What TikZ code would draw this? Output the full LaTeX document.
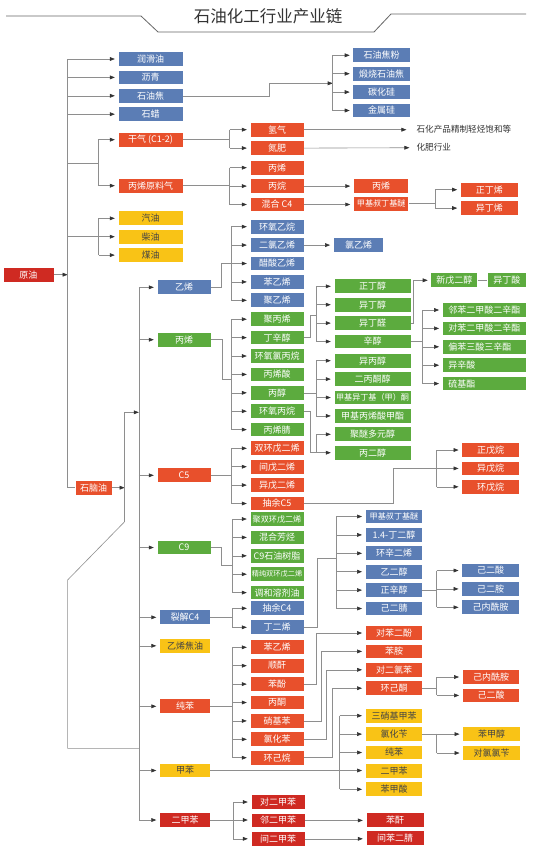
\documentclass[tikz,border=0pt]{standalone}
\usepackage{fontspec}
\newfontfamily\cjk{Noto Sans CJK SC}
\usetikzlibrary{arrows.meta,positioning}
\definecolor{blu}{HTML}{5B7DB5}
\definecolor{grn}{HTML}{5CAB3E}
\definecolor{org}{HTML}{E8502C}
\definecolor{dred}{HTML}{CF2A22}
\definecolor{yel}{HTML}{F9C316}
\definecolor{linec}{HTML}{8E8E8E}
\definecolor{inkd}{HTML}{333333}
\definecolor{inkg}{HTML}{444444}
\tikzset{
  box/.style={rectangle, inner sep=0pt, minimum height=13.7pt, text=white,
              font=\cjk\fontsize{9}{9}\selectfont},
  bblu/.style={box, fill=blu},
  bgrn/.style={box, fill=grn},
  borg/.style={box, fill=org},
  bred/.style={box, fill=dred},
  byel/.style={box, fill=yel, text=inkg},
  wd/.style={minimum width=#1pt},
  sm/.style={font=\cjk\fontsize{8.1}{8.1}\selectfont},
  xs/.style={font=\cjk\fontsize{7.2}{7.2}\selectfont},
  lft/.style={text width=72pt, align=left, inner xsep=5.5pt},
  fl/.style={-{Triangle[length=5pt,width=3.8pt,color=inkd]}, draw=linec, line width=0.6pt, shorten >=3.5pt},
  ln/.style={draw=linec, line width=0.6pt},
  lbl/.style={font=\cjk\fontsize{8.6}{8.6}\selectfont, text=inkd, anchor=west, inner sep=0pt},
}
\begin{document}
\begin{tikzpicture}[x=1pt,y=-1pt,node distance=4.3pt]
  \useasboundingbox (0,0) rectangle (558,855);
  \fill[white] (0,0) rectangle (558,855);
  % title
  \node[font=\cjk\fontsize{16.5}{16.5}\selectfont, text=inkd] (title) at (268,16.5) {石油化工行业产业链};
  \draw[black!60, line width=0.8pt] (6,16) -- (141,16) -- (158,32) -- (374,32) -- (391,14) -- (526,14);

  % crude and first products
  \node[bred, wd=50] (yuanyou) at (28.5,274.7) {原油};
  \node[bblu, wd=64] (runhua) at (150.5,59) {润滑油};
  \node[bblu, wd=64, below=of runhua] (liqing) {沥青};
  \node[bblu, wd=64, below=of liqing] (jiao) {石油焦};
  \node[bblu, wd=64, below=of jiao] (shila) {石蜡};
  \node[borg, wd=64] (ganqi) at (150.5,139.7) {干气 (C1-2)};
  \node[borg, wd=64] (bxyl) at (150.5,185.7) {丙烯原料气};
  \node[byel, wd=64] (qiyou) at (150.5,218.3) {汽油};
  \node[byel, wd=64, below=of qiyou] (chaiyou) {柴油};
  \node[byel, wd=64, below=of chaiyou] (meiyou) {煤油};
  \node[borg, wd=36] (naoyou) at (93.6,487.7) {石脑油};

  % coke
  \node[bblu, wd=56.6] (jfen) at (381.7,55.3) {石油焦粉};
  \node[bblu, wd=56.6, below=of jfen] (dsjiao) {煅烧石油焦};
  \node[bblu, wd=56.6, below=of dsjiao] (thg) {碳化硅};
  \node[bblu, wd=56.6, below=of thg] (jsg) {金属硅};

  % dry gas, propylene feed
  \node[borg, wd=53] (qingqi) at (277,129.7) {氢气};
  \node[borg, wd=53, below=of qingqi] (danfei) {氮肥};
  \node[lbl] (jingzhi) at (416.4,129.7) {石化产品精制轻烃饱和等};
  \node[lbl] (huafei) at (416.4,147.7) {化肥行业};
  \node[borg, wd=53] (bx1) at (277,167.7) {丙烯};
  \node[borg, wd=53, below=of bx1] (bingwan) {丙烷};
  \node[borg, wd=53, below=of bingwan] (hhc4) {混合 C4};
  \node[borg, wd=54.5] (bx2) at (381.2,185.7) {丙烯};
  \node[borg, wd=54.5, sm] (mtbe1) at (381.2,203.7) {甲基叔丁基醚};
  \node[borg, wd=57] (zdx) at (489.4,189.7) {正丁烯};
  \node[borg, wd=57, below=of zdx] (ydx) {异丁烯};

  % naphtha products
  \node[bblu, wd=53] (yixi) at (184,287.3) {乙烯};
  \node[bgrn, wd=53] (bingxi) at (184,339.7) {丙烯};
  \node[borg, wd=53] (c5) at (184,475.3) {C5};
  \node[bgrn, wd=53] (c9) at (184,547.5) {C9};
  \node[bblu, wd=50] (liejie) at (185,617.3) {裂解C4};
  \node[byel, wd=50] (jiaoyou) at (185,645.8) {乙烯焦油};
  \node[borg, wd=50] (chunben) at (185,706.3) {纯苯};
  \node[byel, wd=50] (jiaben) at (185,770.5) {甲苯};
  \node[bred, wd=50] (erjb) at (185,820) {二甲苯};

  % ethylene
  \node[bblu, wd=53] (hyyw) at (277,226.7) {环氧乙烷};
  \node[bblu, wd=53, below=of hyyw] (eyx) {二氯乙烯};
  \node[bblu, wd=53, below=of eyx] (csyx) {醋酸乙烯};
  \node[bblu, wd=53, below=of csyx] (byx1) {苯乙烯};
  \node[bblu, wd=53, below=of byx1] (jyx) {聚乙烯};
  \node[bblu, wd=49.5] (lyx) at (358.5,244.7) {氯乙烯};

  % propylene
  \node[bgrn, wd=53] (jbx) at (277,319.2) {聚丙烯};
  \node[bgrn, wd=53, below=of jbx] (dxc) {丁辛醇};
  \node[bgrn, wd=53, below=of dxc] (hylbw) {环氧氯丙烷};
  \node[bgrn, wd=53, below=of hylbw] (bxs) {丙烯酸};
  \node[bgrn, wd=53, below=of bxs] (bc) {丙醇};
  \node[bgrn, wd=53, below=of bc] (hybw) {环氧丙烷};
  \node[bgrn, wd=53, below=of hybw] (bxj) {丙烯腈};
  \node[bgrn, wd=76] (zdc) at (372.5,286.3) {正丁醇};
  \node[bgrn, wd=76, below=of zdc] (ydc) {异丁醇};
  \node[bgrn, wd=76, below=of ydc] (ydq) {异丁醛};
  \node[bgrn, wd=76, below=of ydq] (xc) {辛醇};
  \node[bgrn, wd=76] (ybc) at (372.5,360.7) {异丙醇};
  \node[bgrn, wd=76, below=of ybc] (ebtc) {二丙酮醇};
  \node[bgrn, wd=76, below=of ebtc, sm] (mibk) {甲基异丁基（甲）酮};
  \node[bgrn, wd=76, below=of mibk] (mma) {甲基丙烯酸甲酯};
  \node[bgrn, wd=76, below=of mma] (jmdy) {聚醚多元醇};
  \node[bgrn, wd=76, below=of jmdy] (bec) {丙二醇};
  \node[bgrn, wd=46] (xwec) at (454.4,280.3) {新戊二醇};
  \node[bgrn, wd=38.5] (ydsuan) at (506.9,280.3) {异丁酸};
  \node[bgrn, wd=83, lft] (lb) at (484.3,310) {邻苯二甲酸二辛酯};
  \node[bgrn, wd=83, lft, below=of lb] (db) {对苯二甲酸二辛酯};
  \node[bgrn, wd=83, lft, below=of db] (pb) {偏苯三酸三辛酯};
  \node[bgrn, wd=83, lft, below=of pb] (yxs) {异辛酸};
  \node[bgrn, wd=83, lft, below=of yxs] (ljz) {硫基酯};

  % C5
  \node[borg, wd=53] (sjw) at (277,448.3) {双环戊二烯};
  \node[borg, wd=53, below=of sjw] (jwex) {间戊二烯};
  \node[borg, wd=53, below=of jwex] (ywex) {异戊二烯};
  \node[borg, wd=53, below=of ywex] (cyc5) {抽余C5};
  \node[borg, wd=56.5] (zwx) at (490.5,450) {正戊烷};
  \node[borg, wd=56.5, below=of zwx] (ywx) {异戊烷};
  \node[borg, wd=56.5, below=of ywx] (hwx) {环戊烷};

  % C9, cracked C4
  \node[bgrn, wd=53, sm] (jsh) at (277,519) {聚双环戊二烯};
  \node[bgrn, wd=53, below=of jsh] (hhft) {混合芳烃};
  \node[bgrn, wd=53, below=of hhft] (c9sz) {C9石油树脂};
  \node[bgrn, wd=53, below=of c9sz, xs] (jcsh) {精纯双环戊二烯};
  \node[bgrn, wd=53, below=of jcsh] (thrj) {调和溶剂油};
  \node[bblu, wd=53] (cyc4) at (277,608.3) {抽余C4};
  \node[bblu, wd=53] (dex) at (277,627.3) {丁二烯};
  \node[bblu, wd=56.5, sm] (mtbe2) at (394,516.5) {甲基叔丁基醚};
  \node[bblu, wd=56.5, below=of mtbe2] (bdo) {1.4-丁二醇};
  \node[bblu, wd=56.5, below=of bdo] (hxex) {环辛二烯};
  \node[bblu, wd=56.5, below=of hxex] (yec) {乙二醇};
  \node[bblu, wd=56.5, below=of yec] (zxc) {正辛醇};
  \node[bblu, wd=56.5, below=of zxc] (jej) {己二腈};
  \node[bblu, wd=56.5] (jes) at (490.5,570.5) {己二酸};
  \node[bblu, wd=56.5, below=of jes] (jea) {己二胺};
  \node[bblu, wd=56.5, below=of jea] (jnxa) {己内酰胺};

  % benzene
  \node[borg, wd=53] (byx2) at (277,647.3) {苯乙烯};
  \node[borg, wd=53, below=of byx2] (sg) {顺酐};
  \node[borg, wd=53, below=of sg] (bf) {苯酚};
  \node[borg, wd=53, below=of bf] (bt) {丙酮};
  \node[borg, wd=53, below=of bt] (xjb) {硝基苯};
  \node[borg, wd=53, below=of xjb] (lhb) {氯化苯};
  \node[borg, wd=53, below=of lhb] (hjw) {环己烷};
  \node[borg, wd=56.5] (dbef) at (394,633) {对苯二酚};
  \node[borg, wd=56.5, below=of dbef] (ba) {苯胺};
  \node[borg, wd=56.5, below=of ba] (delb) {对二氯苯};
  \node[borg, wd=56.5, below=of delb] (hjt) {环己酮};
  \node[borg, wd=56.5] (jnxa2) at (491,677) {己内酰胺};
  \node[borg, wd=56.5, below=of jnxa2] (jes2) {己二酸};

  % toluene
  \node[byel, wd=56.5] (tnt) at (394,715.7) {三硝基甲苯};
  \node[byel, wd=56.5, below=of tnt] (lhbian) {氯化苄};
  \node[byel, wd=56.5, below=of lhbian] (cb2) {纯苯};
  \node[byel, wd=56.5, below=of cb2] (ejb2) {二甲苯};
  \node[byel, wd=56.5, below=of ejb2] (bjs) {苯甲酸};
  \node[byel, wd=56.5] (bjc) at (491.5,733.7) {苯甲醇};
  \node[byel, wd=56.5] (dllb) at (491.5,753) {对氯氯苄};

  % xylene
  \node[bred, wd=53] (djb) at (278,802) {对二甲苯};
  \node[bred, wd=53, below=of djb] (ljb) {邻二甲苯};
  \node[bred, wd=53, below=of ljb] (jjb) {间二甲苯};
  \node[bred, wd=57] (bg) at (395,820) {苯酐};
  \node[bred, wd=57] (jbej) at (395,838) {间苯二腈};

  % ---- connectors ----
  \coordinate (t1) at (67.6,0);
  \coordinate (t2) at (138.8,0);
  \draw[fl, shorten >=0pt] (yuanyou.east) -- (yuanyou.east -| t1);
  \draw[ln] (t1 |- runhua.west) -- (t1 |- naoyou.west) -- (naoyou.west);
  \foreach \n in {runhua,liqing,jiao,shila} \draw[fl] (t1 |- \n.west) -- (\n.west);
  \coordinate (ga) at (97.9,163.3);
  \draw[ln] (t1 |- ga) -- (ga);
  \draw[ln] (ga |- ganqi.west) -- (ga |- bxyl.west);
  \foreach \n in {ganqi,bxyl} \draw[fl] (ga |- \n.west) -- (\n.west);
  \draw[fl] (t1 |- chaiyou.west) -- (chaiyou.west);
  \coordinate (oy) at (98.6,0);
  \draw[ln] (oy |- qiyou.west) -- (oy |- meiyou.west);
  \foreach \n in {qiyou,meiyou} \draw[fl] (oy |- \n.west) -- (\n.west);

  \coordinate (jb) at (332.7,83.3);
  \draw[fl, shorten >=0pt] (jiao.east) -- ++(86.5,0) |- (jb);
  \draw[ln] (jb |- jfen.west) -- (jb |- jsg.west);
  \foreach \n in {jfen,dsjiao,thg,jsg} \draw[fl] (jb |- \n.west) -- (\n.west);

  \coordinate (gq) at (229.5,0);
  \draw[ln] (ganqi.east) -- (ganqi.east -| gq);
  \draw[ln] (gq |- qingqi.west) -- (gq |- danfei.west);
  \foreach \n in {qingqi,danfei} \draw[fl] (gq |- \n.west) -- (\n.west);
  \draw[fl, shorten >=10pt] (qingqi.east) -- (jingzhi.west);
  \draw[fl, shorten >=7pt] (danfei.east) -- (huafei.west);
  \draw[ln] (bxyl.east) -- (bxyl.east -| gq);
  \draw[ln] (gq |- bx1.west) -- (gq |- hhc4.west);
  \foreach \n in {bx1,bingwan,hhc4} \draw[fl] (gq |- \n.west) -- (\n.west);
  \draw[fl] (bingwan.east) -- (bingwan.east -| bx2.west);
  \draw[fl] (hhc4.east) -- (hhc4.east -| mtbe1.west);
  \coordinate (mb) at (434.9,0);
  \draw[ln] (mtbe1.east) -- (mtbe1.east -| mb);
  \draw[ln] (mb |- zdx.west) -- (mb |- ydx.west);
  \foreach \n in {zdx,ydx} \draw[fl] (mb |- \n.west) -- (\n.west);

  % naphtha loop
  \coordinate (nup) at (124.6,412.3);
  \coordinate (ndn) at (124.6,521.7);
  \coordinate (nlo) at (67.6,580);
  \coordinate (nbt) at (67.6,748.3);
  \draw[fl, shorten >=0pt] (naoyou.east) -- (naoyou.east -| nup);
  \draw[fl, shorten >=0pt] (ndn) -- (nup) -- (nup -| t2);
  \draw[ln] (ndn) -- (nlo) -- (nbt) -- (nbt -| t2);
  \draw[ln] (t2 |- yixi.west) -- (t2 |- erjb.west);
  \foreach \n in {yixi,bingxi,c5,c9,liejie,jiaoyou,chunben,jiaben,erjb} \draw[fl] (t2 |- \n.west) -- (\n.west);

  % ethylene
  \coordinate (yb) at (231.3,0);
  \draw[ln] (yixi.east) -- ++(10.6,0) |- (yb |- csyx.west);
  \draw[ln] (yb |- hyyw.west) -- (yb |- jyx.west);
  \foreach \n in {hyyw,eyx,csyx,byx1,jyx} \draw[fl] (yb |- \n.west) -- (\n.west);
  \draw[fl] (eyx.east) -- (eyx.east -| lyx.west);

  % propylene
  \coordinate (bj) at (231.7,379.3);
  \draw[ln] (bingxi.east) -- ++(11.4,0) |- (bj);
  \draw[ln] (bj |- jbx.west) -- (bj |- bxj.west);
  \foreach \n in {jbx,dxc,hylbw,bxs,bc,hybw,bxj} \draw[fl] (bj |- \n.west) -- (\n.west);
  \coordinate (dj) at (316,315.7);
  \draw[ln] (dxc.east) -- ++(6.6,0) |- (dj);
  \draw[ln] (dj |- zdc.west) -- (dj |- xc.west);
  \foreach \n in {zdc,ydc,ydq,xc} \draw[fl] (dj |- \n.west) -- (\n.west);
  \draw[ln] (bc.east) -- (bc.east -| dj);
  \draw[ln] (dj |- ybc.west) -- (dj |- mma.west);
  \foreach \n in {ybc,ebtc,mibk,mma} \draw[fl] (dj |- \n.west) -- (\n.west);
  \draw[fl] (hybw.east) -- ++(6.6,0) |- (bec.west);
  \draw[ln] (dj |- jmdy.west) -- (dj |- bec.west);
  \draw[fl] (dj |- jmdy.west) -- (jmdy.west);
  \draw[fl] (ydq.east) -- ++(2.5,0) |- (xwec.west);
  \draw[ln] (xwec.east) -- (ydsuan.west);
  \coordinate (xb) at (422.7,0);
  \draw[ln] (xc.east) -- (xc.east -| xb);
  \draw[ln] (xb |- lb.west) -- (xb |- ljz.west);
  \foreach \n in {lb,db,pb,yxs,ljz} \draw[fl] (xb |- \n.west) -- (\n.west);

  % C5
  \coordinate (cb) at (231.5,0);
  \draw[ln] (c5.east) -- (c5.east -| cb);
  \draw[ln] (cb |- sjw.west) -- (cb |- cyc5.west);
  \foreach \n in {sjw,jwex,ywex,cyc5} \draw[fl] (cb |- \n.west) -- (\n.west);
  \draw[fl] (cyc5.east) -- ++(90,0) |- (ywx.west);
  \coordinate (wb) at (436.7,0);
  \draw[ln] (wb |- zwx.west) -- (wb |- hwx.west);
  \foreach \n in {zwx,hwx} \draw[fl] (wb |- \n.west) -- (\n.west);

  % C9, C4
  \coordinate (c9j) at (232.3,565);
  \draw[ln] (c9.east) -- ++(10.2,0) |- (c9j);
  \draw[ln] (c9j |- jsh.west) -- (c9j |- thrj.west);
  \foreach \n in {jsh,hhft,c9sz,jcsh,thrj} \draw[fl] (c9j |- \n.west) -- (\n.west);
  \draw[ln] (liejie.east) -- (liejie.east -| c9j);
  \draw[ln] (c9j |- cyc4.west) -- (c9j |- dex.west);
  \foreach \n in {cyc4,dex} \draw[fl] (c9j |- \n.west) -- (\n.west);
  \coordinate (dj2) at (336,558.3);
  \draw[ln] (dex.east) -- ++(13.8,0) |- (dj2);
  \draw[ln] (dj2 |- mtbe2.west) -- (dj2 |- jej.west);
  \foreach \n in {mtbe2,bdo,hxex,yec,zxc,jej} \draw[fl] (dj2 |- \n.west) -- (\n.west);
  \coordinate (zb) at (436.5,0);
  \draw[ln] (zxc.east) -- (zxc.east -| zb);
  \draw[ln] (zb |- jes.west) -- (zb |- jnxa.west);
  \foreach \n in {jes,jea,jnxa} \draw[fl] (zb |- \n.west) -- (\n.west);

  % benzene
  \draw[ln] (chunben.east) -- (chunben.east -| c9j);
  \draw[ln] (c9j |- byx2.west) -- (c9j |- hjw.west);
  \foreach \n in {byx2,sg,bf,bt,xjb,lhb,hjw} \draw[fl] (c9j |- \n.west) -- (\n.west);
  \draw[fl] (bf.east) -- ++(12.5,0) |- (dbef.west);
  \draw[fl] (xjb.east) -- ++(17.5,0) |- (ba.west);
  \draw[fl] (lhb.east) -- ++(22.5,0) |- (delb.west);
  \draw[fl] (hjw.east) -- ++(29,0) |- (hjt.west);
  \draw[ln] (hjt.east) -- (hjt.east -| zb);
  \draw[ln] (zb |- jnxa2.west) -- (zb |- jes2.west);
  \foreach \n in {jnxa2,jes2} \draw[fl] (zb |- \n.west) -- (\n.west);

  % toluene
  \coordinate (yb2) at (339.5,0);
  \draw[fl] (jiaben.east) -- (jiaben.east -| ejb2.west);
  \draw[ln] (yb2 |- tnt.west) -- (yb2 |- bjs.west);
  \foreach \n in {tnt,lhbian,cb2,bjs} \draw[fl] (yb2 |- \n.west) -- (\n.west);
  \draw[fl] (lhbian.east) -- (lhbian.east -| bjc.west);
  \draw[ln] (zb |- bjc.west) -- (zb |- dllb.west);
  \draw[fl] (zb |- dllb.west) -- (dllb.west);

  % xylene
  \coordinate (xb2) at (233,0);
  \draw[fl] (erjb.east) -- (erjb.east -| ljb.west);
  \draw[ln] (xb2 |- djb.west) -- (xb2 |- jjb.west);
  \foreach \n in {djb,jjb} \draw[fl] (xb2 |- \n.west) -- (\n.west);
  \draw[fl] (ljb.east) -- (ljb.east -| bg.west);
  \draw[fl] (jjb.east) -- (jjb.east -| jbej.west);
\end{tikzpicture}
\end{document}
